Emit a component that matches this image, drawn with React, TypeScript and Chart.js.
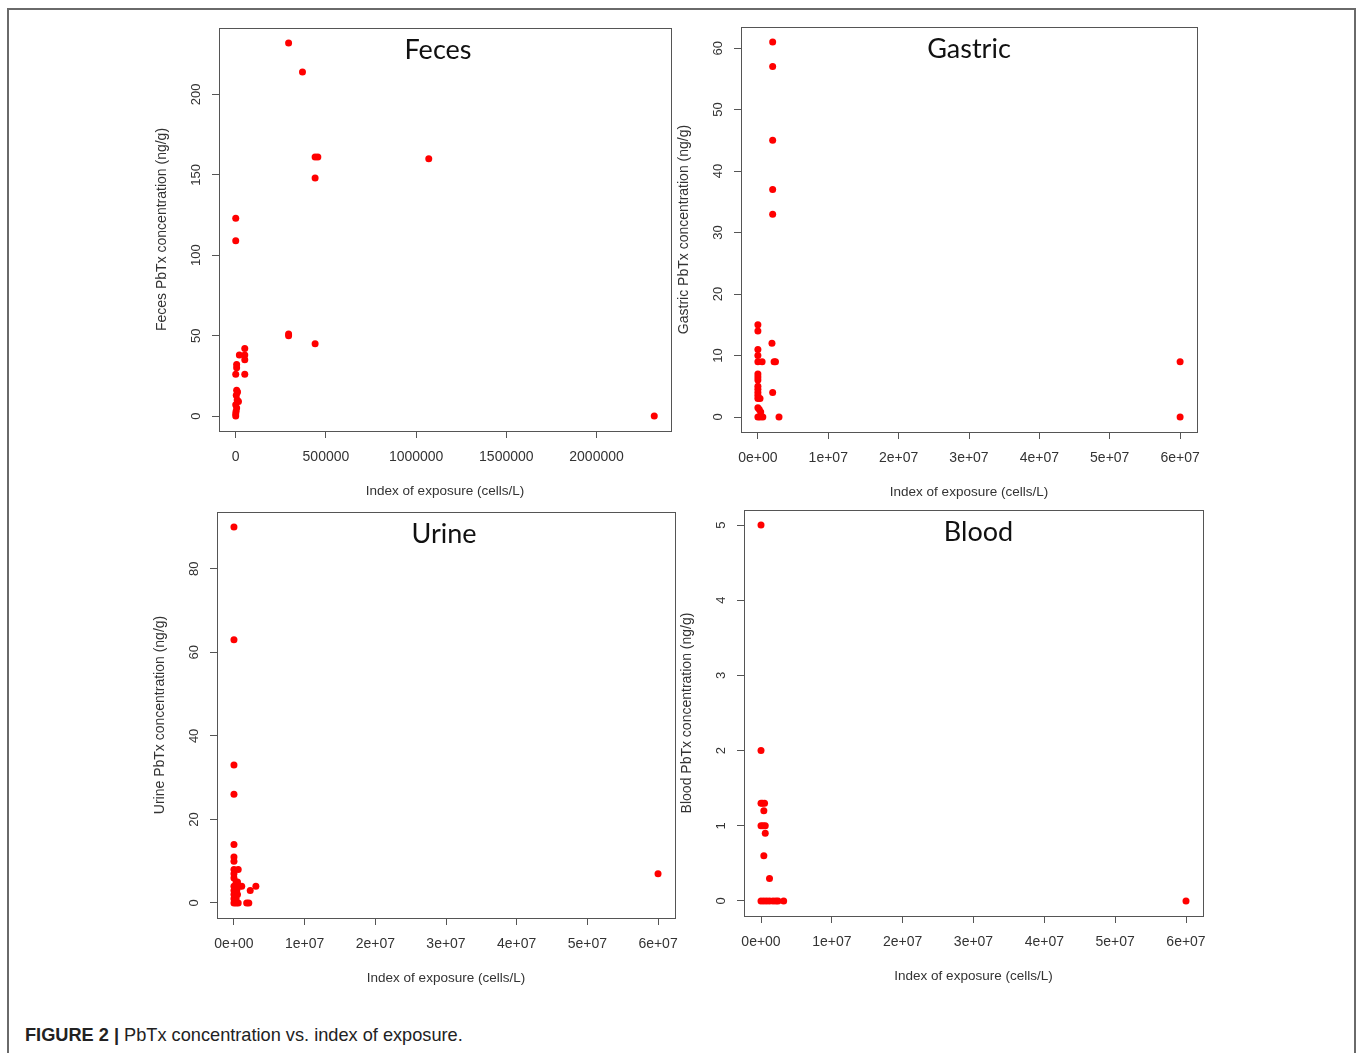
import React, { useEffect, useRef } from "react";
import { Chart, registerables } from "chart.js";

Chart.register(...registerables);

// ---------- Data (cells/L, ng/g) ----------
const fecesX = [293000, 370000, 440000, 455000, 440000, 1070000, 2320000, 0, 0, 293000, 293000, 440000,
  50000, 50000, 20000, 50000, 5000, 5000, 0, 50000, 5000, 10000, 3000, 8000, 15000, 0, 5000, 2000, 0, 0];
const fecesY = [232, 214, 161, 161, 148, 160, 0, 123, 109, 51, 50, 45,
  42, 38, 38, 35, 32, 30, 26, 26, 16, 15, 13, 10, 9, 7, 5, 3, 1.5, 0];

const gastricX = [2.1e6, 2.1e6, 2.1e6, 2.1e6, 2.1e6, 2.0e6, 2.3e6, 2.5e6, 2.1e6, 3.0e6, 6e7, 6e7,
  0, 0, 0, 0, 0, 0.6e6, 0, 0, 0, 0, 0, 0, 0, 0, 0.3e6, 0, 0.2e6, 0.4e6, 0, 0.3e6, 0.7e6];
const gastricY = [61, 57, 45, 37, 33, 12, 9, 9, 4, 0, 9, 0,
  15, 14, 11, 10, 9, 9, 7, 6.5, 6, 5, 4.5, 4, 3.5, 3, 3, 1.5, 1.2, 0.8, 0, 0, 0];

const urineX = [0, 0, 0, 0, 0, 0, 0, 0, 0.6e6, 0, 0, 0.3e6, 0.5e6, 0, 0.8e6, 1.1e6, 3.1e6, 2.3e6,
  0, 0.4e6, 0, 0.5e6, 0, 0.3e6, 0, 0.3e6, 0.6e6, 1.8e6, 2.1e6, 6e7];
const urineY = [90, 63, 33, 26, 14, 11, 10, 8, 8, 7, 6, 5, 5, 4, 4, 4, 4, 3,
  3, 3, 2, 2, 1, 1, 0, 0, 0, 0, 0, 7];

const bloodX = [0, 0, 0, 0.2e6, 0.5e6, 0.4e6, 0, 0.3e6, 0.6e6, 0.6e6, 0.4e6, 1.2e6,
  0, 0.4e6, 0.8e6, 1.2e6, 1.7e6, 2.1e6, 2.4e6, 3.2e6, 6e7];
const bloodY = [5, 2, 1.3, 1.3, 1.3, 1.2, 1, 1, 1, 0.9, 0.6, 0.3,
  0, 0, 0, 0, 0, 0, 0, 0, 0];

// ---------- Ticks ----------
const fecesXTicks = [0, 500000, 1000000, 1500000, 2000000];
const fecesXTickLabels = ["0", "500000", "1000000", "1500000", "2000000"];
const expXTicks = [0, 1e7, 2e7, 3e7, 4e7, 5e7, 6e7];
const expXTickLabels = ["0e+00", "1e+07", "2e+07", "3e+07", "4e+07", "5e+07", "6e+07"];
const fecesYTicks = [0, 50, 100, 150, 200];
const gastricYTicks = [0, 10, 20, 30, 40, 50, 60];
const urineYTicks = [0, 20, 40, 60, 80];
const bloodYTicks = [0, 1, 2, 3, 4, 5];

const xAxisTitle = "Index of exposure (cells/L)";
const caption = "PbTx concentration vs. index of exposure.";

type Panel = {
  title: string;
  xs: number[];
  ys: number[];
  xTicks: number[];
  xLabels: string[];
  yTicks: number[];
  yTitle: string;
  box: { l: number; t: number; r: number; b: number };
  titleDx: number;
};

const panels: Panel[] = [
  { title: "Feces", xs: fecesX, ys: fecesY, xTicks: fecesXTicks, xLabels: fecesXTickLabels, yTicks: fecesYTicks,
    yTitle: "Feces PbTx concentration (ng/g)", box: { l: 219, t: 28, r: 671, b: 431 }, titleDx: -7 },
  { title: "Gastric", xs: gastricX, ys: gastricY, xTicks: expXTicks, xLabels: expXTickLabels, yTicks: gastricYTicks,
    yTitle: "Gastric PbTx concentration (ng/g)", box: { l: 741, t: 27, r: 1197, b: 432 }, titleDx: 0 },
  { title: "Urine", xs: urineX, ys: urineY, xTicks: expXTicks, xLabels: expXTickLabels, yTicks: urineYTicks,
    yTitle: "Urine PbTx concentration (ng/g)", box: { l: 217, t: 512, r: 675, b: 918 }, titleDx: -2 },
  { title: "Blood", xs: bloodX, ys: bloodY, xTicks: expXTicks, xLabels: expXTickLabels, yTicks: bloodYTicks,
    yTitle: "Blood PbTx concentration (ng/g)", box: { l: 744, t: 510, r: 1203, b: 916 }, titleDx: 5 },
];

const SANS = "'Liberation Sans', Arial, sans-serif";
const PADL = 80, PADT = 10, PADR = 20, PADB = 75;

function ScatterPanel({ p }: { p: Panel }) {
  const ref = useRef<HTMLCanvasElement>(null);
  const w = p.box.r - p.box.l + PADL + PADR;
  const h = p.box.b - p.box.t + PADT + PADB;

  useEffect(() => {
    const canvas = ref.current;
    if (!canvas) return;
    const ext = (arr: number[]) => {
      const mn = Math.min(...arr), mx = Math.max(...arr);
      const d = (mx - mn) * 0.04;
      return [mn - d, mx + d];
    };
    const [xmin, xmax] = ext(p.xs);
    const [ymin, ymax] = ext(p.ys);

    const framePlugin = {
      id: "rframe",
      afterDraw(chart: any) {
        const { ctx, chartArea } = chart;
        const ys = chart.scales.y;
        ctx.save();
        ctx.strokeStyle = "#555";
        ctx.lineWidth = 1;
        ctx.strokeRect(Math.round(chartArea.left) + 0.5, Math.round(chartArea.top) + 0.5,
          Math.round(chartArea.right - chartArea.left), Math.round(chartArea.bottom - chartArea.top));
        // rotated y tick labels (R style)
        ctx.fillStyle = "#333";
        ctx.font = `13px ${SANS}`;
        ctx.textAlign = "center";
        ctx.textBaseline = "middle";
        p.yTicks.forEach((v) => {
          const y = ys.getPixelForValue(v);
          ctx.save();
          ctx.translate(chartArea.left - 23, y);
          ctx.rotate(-Math.PI / 2);
          ctx.fillText(String(v), 0, 0);
          ctx.restore();
        });
        // panel title
        ctx.fillStyle = "#111";
        ctx.font = `27px Lato, 'Open Sans', sans-serif`;
        ctx.textAlign = "center";
        ctx.textBaseline = "alphabetic";
        ctx.fillText(p.title, (chartArea.left + chartArea.right) / 2 + p.titleDx, chartArea.top + 30.5);
        ctx.restore();
      },
    };

    const chart = new Chart(canvas, {
      type: "scatter",
      data: {
        datasets: [
          {
            data: p.xs.map((x, i) => ({ x, y: p.ys[i] })),
            backgroundColor: "#ff0000",
            borderColor: "#ff0000",
            pointRadius: 3.5,
            pointBorderWidth: 0,
            pointHoverRadius: 3.5,
          },
        ],
      },
      options: {
        animation: false,
        responsive: false,
        maintainAspectRatio: false,
        devicePixelRatio: 1,
        events: [],
        layout: { padding: { left: 0, top: PADT, right: PADR, bottom: 0 } },
        plugins: { legend: { display: false }, tooltip: { enabled: false }, title: { display: false } },
        scales: {
          x: {
            type: "linear",
            position: "bottom",
            min: xmin,
            max: xmax,
            afterBuildTicks: (s: any) => { s.ticks = p.xTicks.map((v) => ({ value: v })); },
            afterFit: (s: any) => { s.height = PADB; },
            ticks: {
              callback: (_v: any, i: number) => p.xLabels[i],
              font: { family: SANS, size: 14 },
              color: "#333",
              padding: 11,
              maxRotation: 0,
              minRotation: 0,
              autoSkip: false,
            },
            grid: { display: true, drawOnChartArea: false, drawTicks: true, tickLength: 7, color: "#555", lineWidth: 1 },
            border: { display: true, color: "#555", width: 1 },
            title: {
              display: true,
              text: xAxisTitle,
              font: { family: SANS, size: 13.5 },
              color: "#333",
              padding: { top: 0, bottom: 7 },
            },
          },
          y: {
            type: "linear",
            position: "left",
            min: ymin,
            max: ymax,
            afterBuildTicks: (s: any) => { s.ticks = p.yTicks.map((v) => ({ value: v })); },
            afterFit: (s: any) => { s.width = PADL; },
            ticks: { display: false },
            grid: { display: true, drawOnChartArea: false, drawTicks: true, tickLength: 7, color: "#555", lineWidth: 1 },
            border: { display: true, color: "#555", width: 1 },
            title: {
              display: true,
              text: p.yTitle,
              font: { family: SANS, size: 14 },
              color: "#333",
              padding: { top: 14.6, bottom: 0 },
            },
          },
        },
      },
      plugins: [framePlugin],
    } as any);
    return () => chart.destroy();
  }, []);

  return (
    <canvas
      ref={ref}
      width={w}
      height={h}
      style={{ position: "absolute", left: p.box.l - PADL, top: p.box.t - PADT, width: w, height: h }}
    />
  );
}

export default function App() {
  return (
    <div style={{ position: "fixed", left: 0, top: 0, width: 1358, height: 1053, background: "#fff", overflow: "hidden" }}>
      <div
        style={{
          position: "absolute",
          left: 7,
          top: 8,
          width: 1349,
          height: 1060,
          border: "2px solid #6a6a6a",
          boxSizing: "border-box",
        }}
      />
      {panels.map((p) => (
        <ScatterPanel key={p.title} p={p} />
      ))}
      <div
        style={{
          position: "absolute",
          left: 25,
          top: 1023,
          fontFamily: SANS,
          fontSize: 18.2,
          color: "#222",
          whiteSpace: "nowrap",
          lineHeight: "24px",
        }}
      >
        <b>FIGURE 2 |</b> {caption}
      </div>
    </div>
  );
}
